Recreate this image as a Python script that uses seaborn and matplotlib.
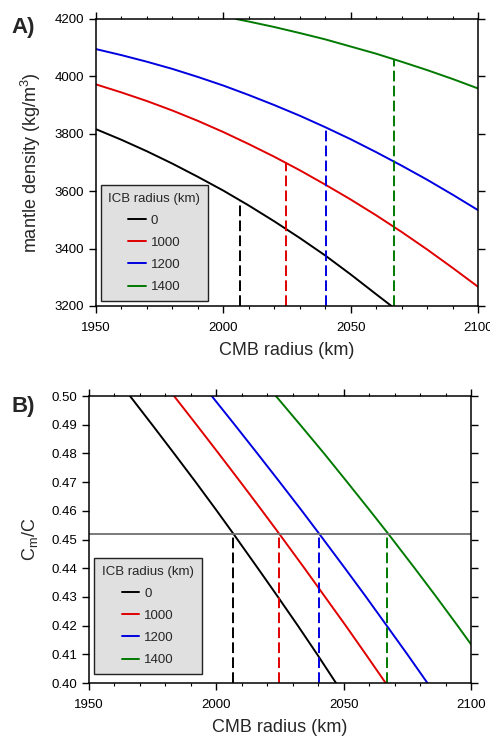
import numpy as np
import pandas as pd
import seaborn as sns
import matplotlib
matplotlib.use("Agg")
import matplotlib.pyplot as plt
from matplotlib.ticker import MultipleLocator, FormatStrFormatter

# ICB radius cases and their colours
icb = ["0", "1000", "1200", "1400"]
colors = ["#000000", "#e00000", "#0000e0", "#007a00"]

# panel A: mantle density (kg/m3) vs CMB radius (km)
dens_x = {
    "0":    [1950, 1960, 1970, 1980, 1990, 2000, 2010, 2020, 2030, 2040, 2050, 2060, 2066],
    "1000": [1950, 1960, 1970, 1980, 1990, 2000, 2010, 2020, 2030, 2040, 2050, 2060, 2070, 2080, 2090, 2100],
    "1200": [1950, 1960, 1970, 1980, 1990, 2000, 2010, 2020, 2030, 2040, 2050, 2060, 2070, 2080, 2090, 2100],
    "1400": [2005, 2010, 2020, 2030, 2040, 2050, 2060, 2070, 2080, 2090, 2100],
}
dens_y = {
    "0":    [3816, 3779, 3739, 3696, 3650, 3602, 3550, 3495, 3437, 3376, 3310, 3241, 3200],
    "1000": [3972, 3944, 3914, 3881, 3845, 3806, 3764, 3720, 3673, 3623, 3571, 3516, 3458, 3397, 3333, 3267],
    "1200": [4095, 4074, 4051, 4026, 3998, 3968, 3935, 3900, 3863, 3823, 3781, 3736, 3689, 3640, 3588, 3534],
    "1400": [4200, 4191, 4172, 4151, 4129, 4104, 4079, 4051, 4022, 3991, 3958],
}

# panel B: Cm/C vs CMB radius (km)
cmc_levels = [0.50, 0.49, 0.48, 0.47, 0.46, 0.452, 0.44, 0.43, 0.42, 0.41, 0.40]
cmc_x = {
    "0":    [1966.1, 1974.8, 1983.4, 1991.9, 2000.2, 2006.7, 2016.3, 2024.2, 2032.0, 2039.6, 2047.0],
    "1000": [1983.4, 1992.2, 2000.9, 2009.5, 2018.0, 2024.7, 2034.6, 2042.7, 2050.8, 2058.7, 2066.5],
    "1200": [1998.2, 2007.2, 2016.1, 2024.9, 2033.6, 2040.4, 2050.5, 2058.8, 2066.9, 2075.0, 2082.9],
    "1400": [2023.4, 2032.9, 2042.3, 2051.4, 2060.4, 2067.5, 2077.9, 2086.4, 2094.7, 2100.0],
}
cmc_y = {
    "0":    cmc_levels,
    "1000": cmc_levels,
    "1200": cmc_levels,
    "1400": [0.50, 0.49, 0.48, 0.47, 0.46, 0.452, 0.44, 0.43, 0.42, 0.4135],
}

# observed Cm/C and where each curve crosses it
cmc_obs = 0.452
cross_r = [2006.7, 2024.6, 2040.3, 2067.0]
cross_dens = [3566, 3697, 3819, 4059]

rows_a = [(r, d, k) for k in icb for r, d in zip(dens_x[k], dens_y[k])]
df_a = pd.DataFrame(rows_a, columns=["r", "dens", "icb"])
rows_b = [(r, c, k) for k in icb for r, c in zip(cmc_x[k], cmc_y[k])]
df_b = pd.DataFrame(rows_b, columns=["r", "cmc", "icb"])

sns.set_theme(style="ticks")
plt.rcParams["font.family"] = ["Liberation Sans", "DejaVu Sans"]
plt.rcParams.update({
    "axes.linewidth": 1.1,
    "xtick.major.width": 1.0, "ytick.major.width": 1.0,
    "xtick.minor.width": 0.8,
    "xtick.major.size": 5.2, "ytick.major.size": 5.2,
    "xtick.minor.size": 2.5,
    "xtick.labelsize": 9.5, "ytick.labelsize": 9.5,
    "axes.labelsize": 13,
    "xtick.color": "black", "ytick.color": "black",
    "axes.edgecolor": "black",
    "mathtext.fontset": "custom",
    "mathtext.rm": "Liberation Sans",
    "mathtext.it": "Liberation Sans",
})

fig = plt.figure(figsize=(4.9, 7.38), dpi=100)
ax1 = fig.add_axes([0.1959, 0.5854, 0.7796, 0.3889])
ax2 = fig.add_axes([0.1816, 0.0745, 0.7796, 0.3889])
pal = dict(zip(icb, colors))
dash = (0, (5.5, 2.2))


def style_axes(ax):
    ax.set_xlim(1950, 2100)
    ax.xaxis.set_major_locator(MultipleLocator(50))
    ax.xaxis.set_minor_locator(MultipleLocator(10))
    ax.tick_params(axis="both", which="both", direction="out",
                   top=True, right=True, labeltop=False, labelright=False)
    ax.tick_params(axis="x", pad=6)
    ax.set_xlabel("CMB radius (km)", labelpad=6)


def style_legend(ax, anchor):
    leg = ax.legend(title="ICB radius (km)", loc="lower left", bbox_to_anchor=anchor,
                    frameon=True, fancybox=False, framealpha=1, fontsize=9.5,
                    title_fontsize=9.5, handlelength=1.3, handletextpad=0.4,
                    labelspacing=0.75, borderpad=0.6, borderaxespad=0)
    leg.get_frame().set_facecolor("#e0e0e0")
    leg.get_frame().set_edgecolor("#222222")
    leg.get_frame().set_linewidth(1.0)


# panel A
sns.lineplot(data=df_a, x="r", y="dens", hue="icb", palette=pal, ax=ax1,
             linewidth=1.4, sort=False, estimator=None)
ax1.vlines(cross_r, 3200, cross_dens, colors=colors, linestyles=dash, linewidth=1.4)
ax1.set_ylim(3200, 4200)
ax1.yaxis.set_major_locator(MultipleLocator(200))
style_axes(ax1)
ax1.set_ylabel("mantle density (kg/m$^3$)", labelpad=8)
style_legend(ax1, (0.012, 0.017))

# panel B
sns.lineplot(data=df_b, x="r", y="cmc", hue="icb", palette=pal, ax=ax2,
             linewidth=1.4, sort=False, estimator=None)
ax2.axhline(cmc_obs, color="#707070", linewidth=1.3)
ax2.vlines(cross_r, 0.40, cmc_obs, colors=colors, linestyles=dash, linewidth=1.4)
ax2.set_ylim(0.40, 0.50)
ax2.yaxis.set_major_locator(MultipleLocator(0.01))
ax2.yaxis.set_major_formatter(FormatStrFormatter("%.2f"))
style_axes(ax2)
ax2.set_ylabel("C$_{\\mathrm{m}}$/C", labelpad=8)
style_legend(ax2, (0.013, 0.031))

fig.text(0.024, 1 - 17 / 738, "A)", fontsize=16, fontweight="bold", va="top", ha="left")
fig.text(0.024, 1 - 396 / 738, "B)", fontsize=16, fontweight="bold", va="top", ha="left")

fig.savefig("out.png", dpi=100)
